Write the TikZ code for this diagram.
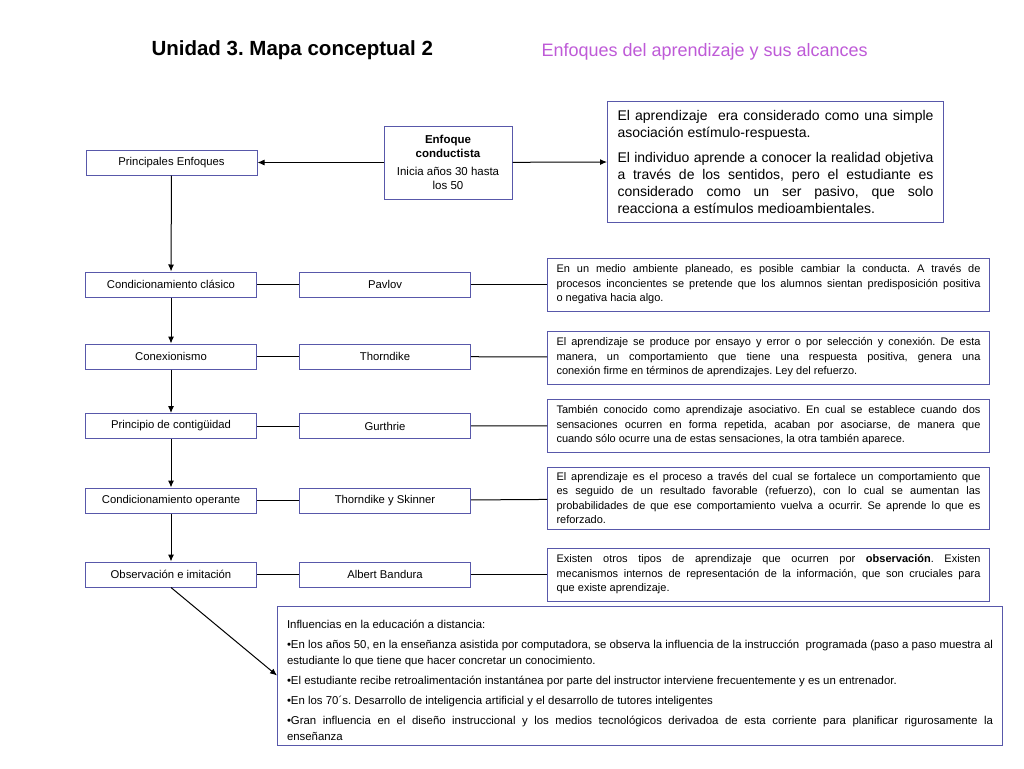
\documentclass[tikz,border=0pt]{standalone}
\usepackage{fontspec}
\setmainfont{Liberation Sans}
\usepackage{xcolor}
\usetikzlibrary{arrows.meta}

\definecolor{borde}{RGB}{88,88,170}
\definecolor{morado}{RGB}{190,90,215}
\hyphenpenalty=10000
\exhyphenpenalty=10000
\frenchspacing

\tikzset{
  caja/.style={draw=borde,line width=1pt,minimum width=171pt,minimum height=25pt,
    inner sep=2pt,font=\fontsize{11.3}{13}\selectfont},
  texto/.style={draw=borde,line width=1pt,anchor=west,text width=424pt,inner xsep=9pt,
    align=justify,font=\fontsize{11}{14.5}\selectfont},
  flecha/.style={-{Latex[length=7pt,width=6pt]},line width=1pt},
  linea/.style={-,line width=1pt}
}

\begin{document}
\begin{tikzpicture}[x=1pt,y=-1pt]
    \useasboundingbox (0,0) rectangle (1024,768);
    \node[font=\fontsize{20.5}{23}\selectfont\bfseries,anchor=west] (titulo) at (148,50) {Unidad 3. Mapa conceptual 2};
    \node[font=\fontsize{18}{21}\selectfont,text=morado,anchor=west] (subtitulo) at (538,52) {Enfoques del aprendizaje y sus alcances};

    \node[caja] (pe) at (171.5,162.5) {Principales Enfoques};
    \node[caja,minimum width=128pt,minimum height=73pt,align=center,font=\fontsize{11.5}{14}\selectfont] (ec) at (448,162.5)
        {\textbf{Enfoque}\\\textbf{conductista}\\[4pt]Inicia años 30 hasta\\los 50};
    \node[caja,anchor=west,minimum width=0pt,minimum height=121pt,text width=316pt,inner xsep=10pt,align=justify,
        font=\fontsize{14}{17}\selectfont] (def) at (607,161.5)
        {El aprendizaje\ \ era considerado como una simple\linebreak asociación estímulo-respuesta.\par\vspace{8pt}
         El individuo aprende a conocer la realidad objetiva\linebreak a través de los sentidos, pero el estudiante es\linebreak considerado como un ser pasivo, que solo\linebreak reacciona a estímulos medioambientales.};

    \node[caja] (cc) at (171,284.5) {Condicionamiento clásico};
    \node[caja] (cx) at (171,356.5) {Conexionismo};
    \node[caja] (pc) at (171,426) {Principio de contigüidad};
    \node[caja] (co) at (171,500.5) {Condicionamiento operante};
    \node[caja] (oi) at (171,574.5) {Observación e imitación};

    \node[caja] (pav) at (385,284.5) {Pavlov};
    \node[caja] (tho) at (385,356.5) {Thorndike};
    \node[caja] (gur) at (385,426) {Gurthrie};
    \node[caja] (ths) at (385,500.5) {Thorndike y Skinner};
    \node[caja] (ban) at (385,574.5) {Albert Bandura};

    \node[texto,minimum height=53pt] (t1) at (547,284.5)
        {En un medio ambiente planeado, es posible cambiar la conducta. A través de\linebreak procesos inconcientes se pretende que los alumnos sientan predisposición positiva\linebreak o negativa hacia algo.};
    \node[texto,minimum height=53pt] (t2) at (547,357.5)
        {El aprendizaje se produce por ensayo y error o por selección y conexión. De esta\linebreak manera, un comportamiento que tiene una respuesta positiva, genera una\linebreak conexión firme en términos de aprendizajes. Ley del refuerzo.};
    \node[texto,minimum height=53pt] (t3) at (547,425.5)
        {También conocido como aprendizaje asociativo. En cual se establece cuando dos\linebreak sensaciones ocurren en forma repetida, acaban por asociarse, de manera que\linebreak cuando sólo ocurre una de estas sensaciones, la otra también aparece.};
    \node[texto,minimum height=62pt] (t4) at (547,498)
        {El aprendizaje es el proceso a través del cual se fortalece un comportamiento que\linebreak es seguido de un resultado favorable (refuerzo), con lo cual se aumentan las\linebreak probabilidades de que ese comportamiento vuelva a ocurrir. Se aprende lo que es\linebreak reforzado.};
    \node[texto,minimum height=53pt] (t5) at (547,574.5)
        {Existen otros tipos de aprendizaje que ocurren por \textbf{observación}. Existen\linebreak mecanismos internos de representación de la información, que son cruciales para\linebreak que existe aprendizaje.};

    \node[texto,text width=706pt,inner xsep=9.5pt,minimum height=139pt,font=\fontsize{11.4}{16}\selectfont] (inf) at (277,675.5)
        {\rule{0pt}{18pt}Influencias en la educación a distancia:\par\vspace{4pt}
         •En los años 50, en la enseñanza asistida por computadora, se observa la influencia de la instrucción\ \ programada (paso a paso muestra al\linebreak estudiante lo que tiene que hacer concretar un conocimiento.\par\vspace{4pt}
         •El estudiante recibe retroalimentación instantánea por parte del instructor interviene frecuentemente y es un entrenador.\par\vspace{4pt}
         •En los 70´s. Desarrollo de inteligencia artificial y el desarrollo de tutores inteligentes\par\vspace{4pt}
         •Gran influencia en el diseño instruccional y los medios tecnológicos derivadoa de esta corriente para planificar rigurosamente la\linebreak enseñanza};

    \draw[flecha] (ec) to (pe);
    \draw[flecha] (ec) to (def);
    \draw[flecha] (pe) to (cc);
    \draw[flecha] (cc) to (cx);
    \draw[flecha] (cx) to (pc);
    \draw[flecha] (pc) to (co);
    \draw[flecha] (co) to (oi);
    \draw[flecha] (oi.south) to (inf.west);

    \draw[linea] (cc) to (pav);
    \draw[linea] (cx) to (tho);
    \draw[linea] (pc) to (gur);
    \draw[linea] (co) to (ths);
    \draw[linea] (oi) to (ban);
    \draw[linea] (pav) to (t1);
    \draw[linea] (tho) to (t2);
    \draw[linea] (gur) to (t3);
    \draw[linea] (ths) to (t4);
    \draw[linea] (ban) to (t5);
\end{tikzpicture}
\end{document}
